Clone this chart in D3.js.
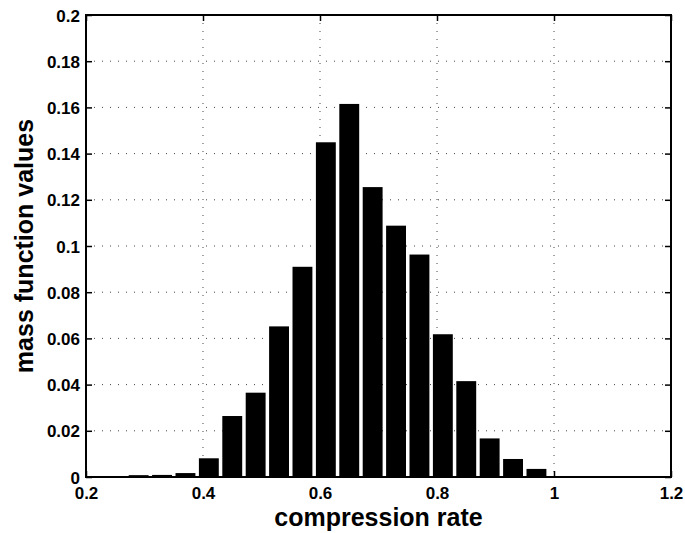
<!DOCTYPE html>
<html>
<head>
<meta charset="utf-8">
<script src="https://cdn.jsdelivr.net/npm/d3@7"></script>
<style>
  body { margin: 0; background: #fff; }
  text { font-family: "Liberation Sans", Arial, sans-serif; font-weight: bold; }
</style>
</head>
<body>
<div id="chart"></div>
<script>
// bin centres (width 0.04) and mass values
let binCenters = [0.29, 0.33, 0.37, 0.41, 0.45, 0.49, 0.53, 0.57, 0.61,
                  0.65, 0.69, 0.73, 0.77, 0.81, 0.85, 0.89, 0.93, 0.97];
let massValues = [0.0008, 0.0009, 0.0017, 0.0081, 0.0264, 0.0365, 0.0652, 0.0910, 0.1449,
                  0.1615, 0.1255, 0.1088, 0.0963, 0.0618, 0.0415, 0.0167, 0.0078, 0.0035];
let xTicks = [0.2, 0.4, 0.6, 0.8, 1, 1.2];
let yTicks = [0, 0.02, 0.04, 0.06, 0.08, 0.1, 0.12, 0.14, 0.16, 0.18, 0.2];

let margin = {top: 15, right: 14, bottom: 56, left: 86},
    width = 685 - margin.left - margin.right,
    height = 533 - margin.top - margin.bottom;

let barWidth = 0.034;

let svg = d3.select('#chart')
  .append('svg')
    .attr('width', 685)
    .attr('height', 533)
  .append('g')
    .attr('transform', `translate(${margin.left},${margin.top})`);

let x = d3.scaleLinear().domain([0.2, 1.2]).range([0, width]);
let y = d3.scaleLinear().domain([0, 0.2]).range([height, 0]);

// dotted grid
svg.append('g')
  .selectAll('line')
  .data(xTicks.slice(1, -1))
  .enter()
  .append('line')
    .attr('x1', d => x(d)).attr('x2', d => x(d))
    .attr('y1', 0).attr('y2', height)
    .attr('stroke', '#444')
    .attr('stroke-dasharray', '1,7');

svg.append('g')
  .selectAll('line')
  .data(yTicks.slice(1, -1))
  .enter()
  .append('line')
    .attr('y1', d => y(d)).attr('y2', d => y(d))
    .attr('x1', 0).attr('x2', width)
    .attr('stroke', '#444')
    .attr('stroke-dasharray', '1,7');

// bars
let data = binCenters.map((c, i) => ({c: c, v: massValues[i]}));
svg.append('g')
  .selectAll('rect')
  .data(data)
  .enter()
  .append('rect')
    .attr('x', d => x(d.c - barWidth / 2))
    .attr('width', d => x(d.c + barWidth / 2) - x(d.c - barWidth / 2))
    .attr('y', d => y(d.v))
    .attr('height', d => y(0) - y(d.v))
    .attr('fill', '#000');

// axes with inward ticks on all four sides
function styleAxis(g) {
  g.select('.domain').remove();
  g.selectAll('line').attr('stroke', '#000').attr('stroke-width', 1.5);
  g.selectAll('text').attr('font-size', 17).attr('fill', '#000');
}

svg.append('g')
  .attr('transform', `translate(0,${height})`)
  .call(d3.axisBottom(x).tickValues(xTicks).tickFormat(d3.format('')).tickSizeInner(-6).tickPadding(10))
  .call(styleAxis);

svg.append('g')
  .call(d3.axisLeft(y).tickValues(yTicks).tickFormat(d3.format('')).tickSizeInner(-6).tickPadding(6))
  .call(styleAxis)
  .selectAll('text').attr('dy', '0.36em');

svg.append('g')
  .call(d3.axisTop(x).tickValues(xTicks).tickFormat('').tickSizeInner(-6))
  .call(styleAxis);

svg.append('g')
  .attr('transform', `translate(${width},0)`)
  .call(d3.axisRight(y).tickValues(yTicks).tickFormat('').tickSizeInner(-6))
  .call(styleAxis);

// frame
svg.append('rect')
  .attr('width', width)
  .attr('height', height)
  .attr('fill', 'none')
  .attr('stroke', '#000')
  .attr('stroke-width', 2);

// axis labels
svg.append('text')
  .attr('x', width / 2)
  .attr('y', height + 49)
  .attr('text-anchor', 'middle')
  .attr('font-size', 25)
  .text('compression rate');

svg.append('text')
  .attr('transform', `translate(${33 - margin.left},${height / 2}) rotate(-90)`)
  .attr('text-anchor', 'middle')
  .attr('font-size', 25)
  .text('mass function values');
</script>
</body>
</html>
